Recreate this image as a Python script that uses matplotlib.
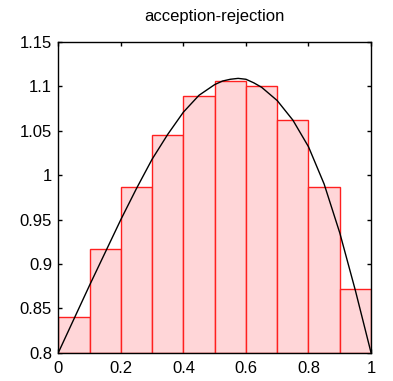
import matplotlib
matplotlib.use('Agg')
import matplotlib.pyplot as plt
import numpy as np

# histogram of accepted samples (10 bins on [0, 1])
bin_left = [0.0, 0.1, 0.2, 0.3, 0.4, 0.5, 0.6, 0.7, 0.8, 0.9]
bin_height = [0.840, 0.917, 0.987, 1.045, 1.089, 1.106, 1.100, 1.062, 0.987, 0.872]

# target density
curve_x = [0.0, 0.05, 0.1, 0.15, 0.2, 0.25, 0.3, 0.35, 0.4, 0.45, 0.5, 0.525,
           0.55, 0.575, 0.6, 0.625, 0.65, 0.7, 0.75, 0.8, 0.85, 0.9, 0.95, 1.0]
curve_y = [0.800, 0.838, 0.876, 0.913, 0.950, 0.985, 1.018, 1.046, 1.071, 1.090, 1.102, 1.106,
           1.108, 1.109, 1.108, 1.104, 1.099, 1.084, 1.062, 1.032, 0.990, 0.935, 0.870, 0.800]

xticks = [0, 0.2, 0.4, 0.6, 0.8, 1.0]
xtick_labels = ['0', '0.2', '0.4', '0.6', '0.8', '1']
yticks = [0.8, 0.85, 0.9, 0.95, 1.0, 1.05, 1.1, 1.15]
ytick_labels = ['0.8', '0.85', '0.9', '0.95', '1', '1.05', '1.1', '1.15']

plt.rcParams['font.family'] = ['Liberation Sans', 'DejaVu Sans']

fig = plt.figure(figsize=(3.93, 3.81), dpi=100)
ax = fig.add_axes([0.1484, 0.0743, 0.7957, 0.8155])

ymin = 0.8
ax.bar(bin_left, np.array(bin_height) - ymin, bottom=ymin, width=0.1, align='edge',
       facecolor='#ffd6d8', edgecolor='#ff2020', linewidth=1.0, zorder=2)
ax.plot(curve_x, curve_y, color='black', linewidth=1.0, zorder=3)

ax.set_xlim(0, 1)
ax.set_ylim(0.8, 1.15)
ax.set_xticks(xticks)
ax.set_xticklabels(xtick_labels)
ax.set_yticks(yticks)
ax.set_yticklabels(ytick_labels)
ax.tick_params(direction='in', length=3, width=1, top=True, right=True,
               labelsize=12, colors='black')
ax.tick_params(axis='x', pad=6)
ax.tick_params(axis='y', pad=4.5)
for s in ax.spines.values():
    s.set_linewidth(1.0)
    s.set_zorder(5)

ax.set_title('acception-rejection', fontsize=12, pad=15)

fig.savefig('out.png', dpi=100)
